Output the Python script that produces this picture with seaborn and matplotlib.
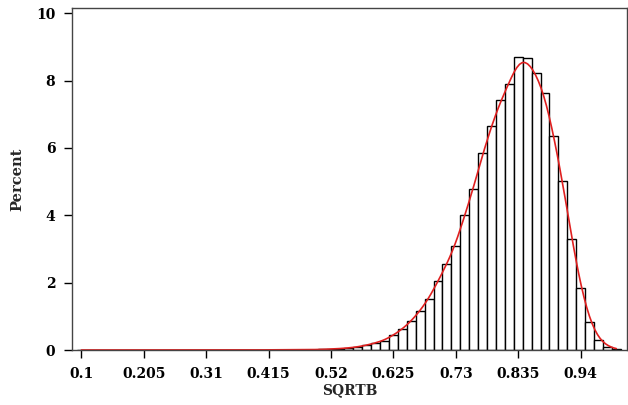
import numpy as np
import pandas as pd
import matplotlib
matplotlib.use("Agg")
import matplotlib.pyplot as plt
import seaborn as sns

# Bin centers (width 0.015) and percent heights
bin_centers = [round(0.1 + 0.015 * i, 3) for i in range(61)]
percents = (
    [0.0] * 20 +                                   # 0.100 .. 0.385
    [0.003, 0.004, 0.005, 0.006, 0.008, 0.01, 0.012, 0.015,   # 0.400 .. 0.505
     0.03, 0.04, 0.06, 0.09, 0.14, 0.21, 0.28,                # 0.520 .. 0.610
     0.44, 0.61, 0.85, 1.16, 1.52, 2.04, 2.55, 3.10,          # 0.625 .. 0.730
     4.02, 4.78, 5.85, 6.64, 7.43, 7.89, 8.69, 8.66,          # 0.745 .. 0.850
     8.21, 7.63, 6.34, 5.02, 3.29, 1.84, 0.83, 0.29,          # 0.865 .. 0.970
     0.10, 0.02]                                              # 0.985 .. 1.000
)
tick_values = [0.1, 0.205, 0.31, 0.415, 0.52, 0.625, 0.73, 0.835, 0.94]
tick_labels = ["0.1", "0.205", "0.31", "0.415", "0.52", "0.625", "0.73", "0.835", "0.94"]

n = min(len(bin_centers), len(percents))
df = pd.DataFrame({"SQRTB": bin_centers[:n], "pct": percents[:n]})
nbins = len(df)

sns.set_style("ticks")
plt.rcParams["font.family"] = ["DejaVu Serif"]

fig = plt.figure(figsize=(6.28, 4.05), dpi=100)
ax = fig.add_axes([0.1146, 0.1358, 0.8834, 0.8442])

sns.histplot(data=df, x="SQRTB", weights="pct", bins=nbins,
             binrange=(0.0925, 0.0925 + 0.015 * nbins), stat="count",
             kde=True, kde_kws={"bw_adjust": 0.3, "cut": 0},
             line_kws={"color": "#e02020", "linewidth": 1.2},
             facecolor="white", edgecolor="black", linewidth=1.0, alpha=1,
             ax=ax)
for line in ax.lines:
    line.set_color("#e02020")

ax.set_xlim(0.0842, 1.0176)
ax.set_ylim(0, 10.15)
ax.set_xticks(tick_values)
ax.set_xticklabels(tick_labels)
ax.set_yticks([0, 2, 4, 6, 8, 10])
ax.set_yticklabels(["0", "2", "4", "6", "8", "10"])
for lab in ax.get_xticklabels() + ax.get_yticklabels():
    lab.set_fontweight("bold")
    lab.set_fontsize(10)
ax.tick_params(axis="both", direction="out", length=6, width=1, colors="black")
ax.tick_params(axis="x", pad=6)
ax.tick_params(axis="y", pad=6)
for s in ax.spines.values():
    s.set_visible(True)
    s.set_color("#444444")
    s.set_linewidth(1)

ax.set_xlabel("SQRTB", fontsize=10, fontweight="bold", labelpad=2)
ax.set_ylabel("Percent", fontsize=10.5, fontweight="semibold", labelpad=8)

fig.savefig("out.png", dpi=100)
